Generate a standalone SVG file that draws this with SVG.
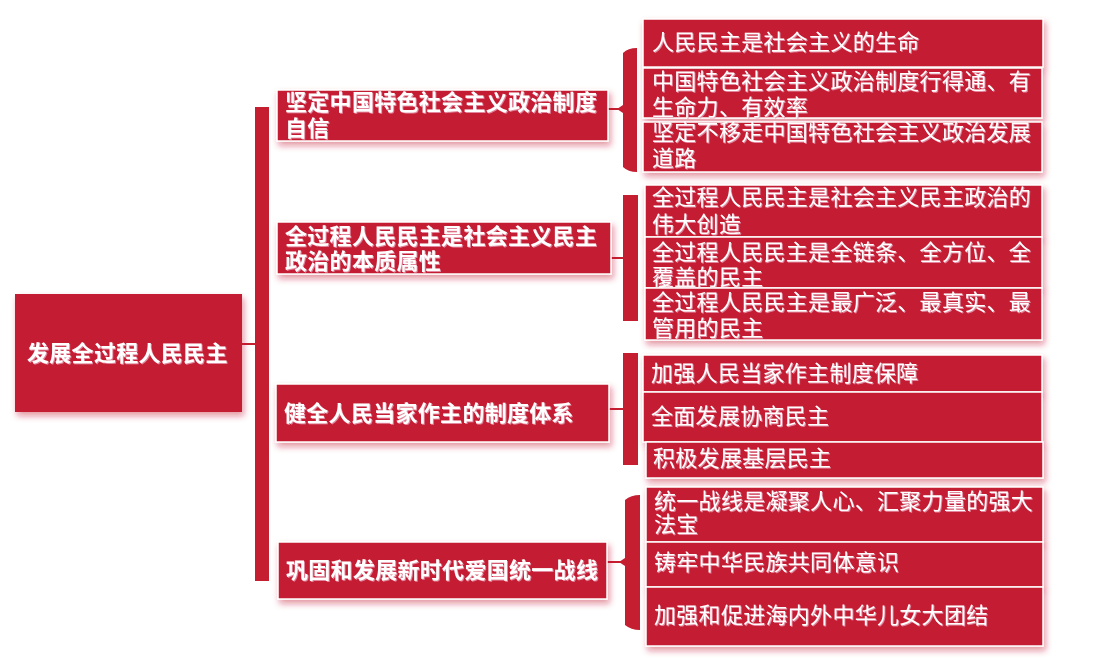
<svg xmlns="http://www.w3.org/2000/svg" width="1094" height="662" viewBox="0 0 1094 662">
<defs>
<filter id="sh" x="-10%" y="-20%" width="125%" height="160%">
<feDropShadow dx="2" dy="4" stdDeviation="3" flood-color="#C41E30" flood-opacity="0.45"/>
</filter>
<filter id="ts" x="-5%" y="-20%" width="110%" height="150%">
<feDropShadow dx="1" dy="1" stdDeviation="0.4" flood-color="#E8A0B8" flood-opacity="0.8"/>
</filter>
</defs>
<style>
.box{fill:#C41E30;stroke:#ffffff;stroke-width:1.5;filter:url(#sh)}
.root{fill:#C41E30;filter:url(#sh)}
.br{fill:#C41E30}
.ln{stroke:#C41E30;stroke-width:2;fill:none}
text{font-family:"Noto Sans CJK SC","Noto Sans CJK JP",sans-serif;font-size:22px;letter-spacing:0.3px;fill:#ffffff;filter:url(#ts)}
.b{font-weight:bold}
</style>
<rect width="1094" height="662" fill="#ffffff"/>
<g id="connectors">
<line class="ln" x1="242" y1="344" x2="256" y2="344"/>
<rect class="br" x="255" y="107" width="14" height="474"/>
<line class="ln" x1="608" y1="109" x2="624" y2="109"/>
<path class="br" d="M637,48 L637,172 Q628,172 623,167 L623,113 L617,109 L623,105 L623,53 Q628,48 637,48 Z"/>
<line class="ln" x1="611" y1="258" x2="624" y2="258"/>
<rect class="br" x="623" y="195" width="15" height="126"/>
<line class="ln" x1="609" y1="409" x2="624" y2="409"/>
<rect class="br" x="623" y="353" width="15" height="112"/>
<line class="ln" x1="607" y1="562" x2="626" y2="562"/>
<path class="br" d="M640,495 L640,630 Q631,630 625,625 L625,566 L619,562 L625,558 L625,500 Q631,495 640,495 Z"/>
</g>
<g id="root">
<rect class="root" x="15" y="294" width="227" height="118"/>
<text class="b" x="27" y="361">发展全过程人民民主</text>
</g>
<g id="n1">
<rect class="box" x="277" y="90" width="331" height="51"/>
<text class="b"><tspan x="285" y="110">坚定中国特色社会主义政治制度</tspan><tspan x="285" y="136">自信</tspan></text>
</g>
<g id="n2">
<rect class="box" x="277" y="222" width="334" height="52"/>
<text class="b"><tspan x="285" y="244">全过程人民民主是社会主义民主</tspan><tspan x="285" y="269">政治的本质属性</tspan></text>
</g>
<g id="n3">
<rect class="box" x="276" y="384" width="333" height="58"/>
<text class="b" x="284" y="421">健全人民当家作主的制度体系</text>
</g>
<g id="n4">
<rect class="box" x="278" y="542" width="329" height="57"/>
<text class="b" x="286" y="578">巩固和发展新时代爱国统一战线</text>
</g>
<g id="n1a">
<rect class="box" x="643" y="19" width="400" height="48"/>
<text x="652" y="50">人民民主是社会主义的生命</text>
</g>
<g id="n1b">
<rect class="box" x="643" y="68" width="399" height="50"/>
<text><tspan x="652" y="89">中国特色社会主义政治制度行得通、有</tspan><tspan x="652" y="115">生命力、有效率</tspan></text>
</g>
<g id="n1c">
<rect class="box" x="643" y="122" width="399" height="50"/>
<text><tspan x="652" y="140">坚定不移走中国特色社会主义政治发展</tspan><tspan x="652" y="166">道路</tspan></text>
</g>
<g id="n2a">
<rect class="box" x="645" y="185" width="397" height="52"/>
<text><tspan x="652" y="205">全过程人民民主是社会主义民主政治的</tspan><tspan x="652" y="232">伟大创造</tspan></text>
</g>
<g id="n2b">
<rect class="box" x="645" y="237" width="397" height="51"/>
<text><tspan x="652" y="260">全过程人民民主是全链条、全方位、全</tspan><tspan x="652" y="285">覆盖的民主</tspan></text>
</g>
<g id="n2c">
<rect class="box" x="645" y="288" width="397" height="52"/>
<text><tspan x="652" y="310">全过程人民民主是最广泛、最真实、最</tspan><tspan x="652" y="336">管用的民主</tspan></text>
</g>
<g id="n3a">
<rect class="box" x="643" y="355" width="399" height="37"/>
<text x="651" y="381">加强人民当家作主制度保障</text>
</g>
<g id="n3b">
<rect class="box" x="643" y="392" width="399" height="50"/>
<text x="651" y="424">全面发展协商民主</text>
</g>
<g id="n3c">
<rect class="box" x="646" y="442" width="397" height="36"/>
<text x="653" y="466">积极发展基层民主</text>
</g>
<g id="n4a">
<rect class="box" x="646" y="487" width="397" height="55"/>
<text><tspan x="654" y="509">统一战线是凝聚人心、汇聚力量的强大</tspan><tspan x="654" y="532">法宝</tspan></text>
</g>
<g id="n4b">
<rect class="box" x="646" y="542" width="397" height="45"/>
<text x="654" y="570">铸牢中华民族共同体意识</text>
</g>
<g id="n4c">
<rect class="box" x="646" y="587" width="397" height="59"/>
<text x="654" y="623">加强和促进海内外中华儿女大团结</text>
</g>
</svg>
